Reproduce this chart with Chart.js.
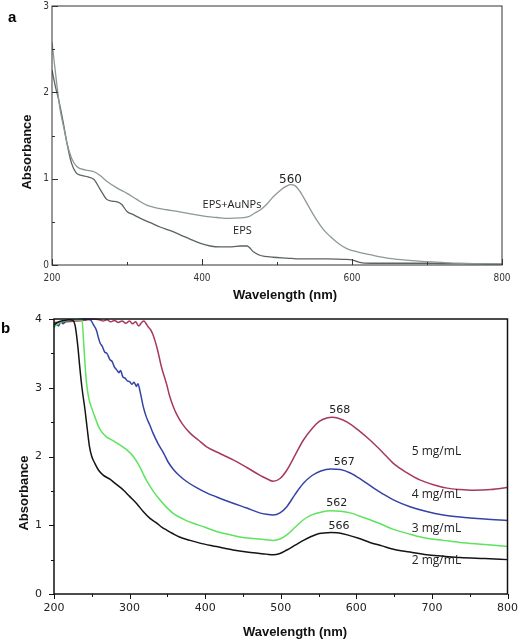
<!DOCTYPE html>
<html>
<head>
<meta charset="utf-8">
<script src="https://cdn.jsdelivr.net/npm/chart.js@4"></script>
<style>
    body { margin: 0; background: #fff; }
    #wrap { position: relative; width: 520px; height: 640px; overflow: hidden; }
    canvas { position: absolute; left: 0; }
    #chartA { top: -3px; }
    #chartB { top: 300px; }
    .panel { position: absolute; font: bold 15px "Liberation Sans", Arial, sans-serif; line-height: 1; color: #000; }
</style>
</head>
<body>
<div id="wrap">
    <canvas id="chartA" width="520" height="306"></canvas>
    <canvas id="chartB" width="526" height="340"></canvas>
    <div class="panel" style="left:8px; top:9px;">a</div>
    <div class="panel" style="left:1px; top:320px;">b</div>
</div>
<script>
// panel a: EPS and EPS+AuNPs spectra
const waveAuNP = [200, 203, 207, 211, 216, 220, 226, 233, 245, 256, 265, 273, 287, 300, 313, 327, 340, 353, 367, 380, 393, 407, 420, 435, 450, 462, 470, 478, 487, 495, 505, 512, 518, 524, 530, 535, 544, 553, 562, 571, 582, 593, 608, 624, 640, 655, 680, 700, 720, 744, 770, 800];
const absAuNP = [2.58, 2.35, 2.05, 1.79, 1.58, 1.41, 1.24, 1.14, 1.10, 1.08, 1.03, 0.97, 0.89, 0.83, 0.76, 0.69, 0.66, 0.64, 0.62, 0.60, 0.58, 0.56, 0.55, 0.54, 0.545, 0.56, 0.60, 0.64, 0.71, 0.79, 0.87, 0.91, 0.93, 0.92, 0.86, 0.79, 0.65, 0.52, 0.41, 0.33, 0.25, 0.19, 0.15, 0.12, 0.09, 0.07, 0.05, 0.04, 0.03, 0.02, 0.015, 0.01];

const waveEPS = [200, 205, 209, 215, 220, 226, 232, 238, 248, 256, 264, 273, 280, 287, 293, 300, 309, 318, 331, 344, 357, 371, 384, 398, 411, 424, 440, 451, 460, 469, 478, 495, 513, 531, 567, 590, 600, 610, 625, 655, 700, 750, 800];
const absEPS = [2.26, 2.05, 1.91, 1.65, 1.41, 1.18, 1.07, 1.04, 1.02, 0.99, 0.88, 0.76, 0.74, 0.73, 0.70, 0.62, 0.58, 0.54, 0.49, 0.44, 0.40, 0.35, 0.30, 0.25, 0.22, 0.21, 0.21, 0.22, 0.22, 0.15, 0.11, 0.09, 0.08, 0.07, 0.07, 0.065, 0.06, 0.03, 0.02, 0.02, 0.02, 0.015, 0.01];

// panel b: spectra at four concentrations
const wave2 = [200, 205, 210, 215, 220, 225, 228, 230, 232, 234, 237, 241, 244, 247, 250, 254, 259, 265, 274, 283, 292, 300, 309, 318, 327, 336, 343, 349, 357, 366, 380, 393, 415, 437, 455, 472, 481, 490, 499, 508, 519, 530, 541, 551, 561, 566, 575, 588, 603, 618, 634, 649, 671, 693, 715, 737, 770, 800];
const abs2 = [3.92, 3.95, 3.97, 3.98, 3.99, 3.98, 3.9, 3.75, 3.55, 3.31, 3.0, 2.68, 2.40, 2.14, 2.0, 1.90, 1.80, 1.73, 1.67, 1.59, 1.51, 1.42, 1.32, 1.20, 1.10, 1.03, 0.97, 0.93, 0.88, 0.83, 0.78, 0.74, 0.69, 0.64, 0.61, 0.59, 0.58, 0.57, 0.59, 0.64, 0.71, 0.78, 0.84, 0.88, 0.89, 0.895, 0.89, 0.86, 0.81, 0.75, 0.70, 0.65, 0.61, 0.57, 0.55, 0.53, 0.515, 0.50];

const wave3 = [200, 205, 210, 220, 230, 237, 239, 241, 243, 246, 250, 254, 258, 261, 269, 278, 287, 296, 305, 313, 322, 331, 340, 349, 358, 371, 384, 400, 415, 430, 446, 460, 472, 481, 490, 499, 508, 519, 530, 541, 553, 566, 579, 592, 605, 618, 634, 649, 671, 693, 715, 737, 770, 800];
const abs3 = [3.88, 3.93, 3.96, 3.98, 3.99, 3.99, 3.7, 3.35, 3.07, 2.85, 2.7, 2.58, 2.46, 2.39, 2.29, 2.23, 2.17, 2.10, 2.00, 1.86, 1.66, 1.50, 1.37, 1.26, 1.17, 1.09, 1.03, 0.97, 0.91, 0.87, 0.83, 0.81, 0.80, 0.79, 0.78, 0.80, 0.86, 0.97, 1.08, 1.15, 1.19, 1.21, 1.205, 1.18, 1.13, 1.08, 1.01, 0.94, 0.87, 0.81, 0.78, 0.75, 0.72, 0.69];

const wave4 = [200, 203, 206, 209, 212, 216, 220, 230, 240, 248, 252, 256, 259, 261, 264, 267, 270, 274, 277, 280, 283, 286, 288, 291, 294, 297, 300, 303, 306, 309, 311, 314, 318, 322, 327, 331, 338, 345, 351, 358, 366, 375, 388, 402, 420, 437, 455, 472, 481, 490, 499, 508, 519, 530, 541, 553, 566, 579, 592, 607, 623, 636, 649, 671, 693, 715, 737, 770, 800];
const abs4 = [3.88, 3.93, 3.90, 3.96, 3.93, 3.97, 3.98, 3.99, 4.0, 3.99, 3.92, 3.84, 3.72, 3.65, 3.60, 3.52, 3.50, 3.41, 3.38, 3.30, 3.26, 3.22, 3.25, 3.16, 3.14, 3.10, 3.09, 3.05, 3.08, 3.02, 3.06, 2.94, 2.73, 2.58, 2.45, 2.34, 2.18, 2.05, 1.92, 1.81, 1.72, 1.64, 1.55, 1.47, 1.39, 1.32, 1.25, 1.18, 1.16, 1.15, 1.18, 1.27, 1.45, 1.61, 1.72, 1.79, 1.82, 1.81, 1.76, 1.66, 1.54, 1.45, 1.37, 1.27, 1.20, 1.15, 1.12, 1.09, 1.07];

const wave5 = [200, 240, 250, 260, 265, 270, 275, 280, 285, 290, 295, 300, 304, 308, 312, 316, 319, 322, 325, 328, 331, 337, 342, 349, 353, 358, 362, 370, 380, 391, 402, 420, 437, 455, 472, 481, 490, 499, 508, 519, 530, 541, 551, 561, 568, 575, 588, 603, 618, 634, 649, 666, 684, 702, 720, 737, 755, 778, 800];
const abs5 = [3.95, 3.98, 4.0, 3.99, 3.97, 3.99, 3.96, 3.98, 3.95, 3.97, 3.94, 3.97, 3.93, 3.96, 3.90, 3.95, 3.97, 3.93, 3.88, 3.84, 3.77, 3.55, 3.31, 3.05, 2.88, 2.72, 2.62, 2.47, 2.34, 2.24, 2.14, 2.04, 1.95, 1.84, 1.73, 1.68, 1.64, 1.68, 1.80, 2.02, 2.24, 2.40, 2.51, 2.56, 2.57, 2.56, 2.50, 2.38, 2.24, 2.07, 1.90, 1.77, 1.66, 1.59, 1.54, 1.52, 1.51, 1.52, 1.55];

const concLabels = ['2 mg/mL', '3 mg/mL', '4 mg/mL', '5 mg/mL'];
const peakLabels = ['566', '562', '567', '568'];

// text placed in data units
const notesA = [
    { text: '560', x: 518, y: 0.99, font: '12px "DejaVu Sans", sans-serif' },
    { text: 'EPS+AuNPs', x: 440, y: 0.70, font: '11px "Open Sans", sans-serif' },
    { text: 'EPS', x: 454, y: 0.39, font: '11px "Open Sans", sans-serif' }
];
const peakPosB = [[577, 0.99], [574, 1.32], [584, 1.92], [578, 2.68]];
const concPosB = [[706, 0.48], [706, 0.95], [706, 1.44], [706, 2.07]];

function toPoints(xs, ys) {
    return xs.map((x, i) => ({ x: x, y: ys[i] }));
}

const titleFont = 'bold 13px "Liberation Sans", Arial, sans-serif';

// box, tick marks, axis titles and notes
const framePlugin = {
    id: 'frame',
    afterDraw(chart, args, opts) {
        const { ctx, chartArea: a, scales: { x, y } } = chart;
        ctx.save();
        ctx.strokeStyle = opts.color;
        ctx.lineWidth = opts.width;
        ctx.strokeRect(a.left, a.top, a.right - a.left, a.bottom - a.top);

        const dir = opts.inward ? -1 : 1;
        ctx.lineWidth = 1;
        ctx.beginPath();
        for (let v = x.min; v <= x.max; v += opts.xMinor) {
            const px = Math.round(x.getPixelForValue(v)) + 0.5;
            const len = (v - x.min) % opts.xMajor === 0 ? opts.major : opts.minor;
            ctx.moveTo(px, a.bottom);
            ctx.lineTo(px, a.bottom + dir * len);
        }
        for (let v = y.min; v <= y.max; v += opts.yMinor) {
            const py = Math.round(y.getPixelForValue(v)) + 0.5;
            const len = v % 1 === 0 ? opts.major : opts.minor;
            ctx.moveTo(a.left, py);
            ctx.lineTo(a.left - dir * len, py);
        }
        ctx.stroke();

        ctx.textAlign = 'center';
        ctx.textBaseline = 'middle';
        ctx.fillStyle = '#111';
        ctx.font = titleFont;
        ctx.fillText('Wavelength (nm)', opts.xTitle[0], opts.xTitle[1]);
        ctx.save();
        ctx.translate(opts.yTitle[0], opts.yTitle[1]);
        ctx.rotate(-Math.PI / 2);
        ctx.fillText('Absorbance', 0, 0);
        ctx.restore();

        ctx.fillStyle = '#222';
        opts.notes.forEach(n => {
            ctx.font = n.font;
            ctx.fillText(n.text, x.getPixelForValue(n.x), y.getPixelForValue(n.y));
        });
        ctx.restore();
    }
};

new Chart(document.getElementById('chartA'), {
    type: 'line',
    data: {
        datasets: [
            { label: 'EPS+AuNPs', data: toPoints(waveAuNP, absAuNP), borderColor: '#8d9898', borderWidth: 1.3 },
            { label: 'EPS', data: toPoints(waveEPS, absEPS), borderColor: '#5b6363', borderWidth: 1.3 }
        ]
    },
    options: {
        responsive: false,
        animation: false,
        devicePixelRatio: 1,
        layout: { padding: { left: 0, right: 18, top: 1, bottom: 0 } },
        elements: { point: { radius: 0 }, line: { cubicInterpolationMode: 'monotone' } },
        scales: {
            x: {
                type: 'linear', min: 200, max: 800,
                border: { display: false },
                grid: { display: false, drawTicks: false },
                ticks: { stepSize: 200, padding: 7, color: '#333', font: { family: '"Liberation Sans Narrow", "DejaVu Sans Condensed", sans-serif', size: 10 } },
                afterFit: s => { s.height = 38; }
            },
            y: {
                min: 0, max: 3,
                border: { display: false },
                grid: { display: false, drawTicks: false },
                ticks: { stepSize: 1, padding: 3, color: '#333', font: { family: '"Liberation Sans Narrow", "DejaVu Sans Condensed", sans-serif', size: 10 } },
                afterFit: s => { s.width = 52; }
            }
        },
        plugins: {
            legend: { display: false },
            tooltip: { enabled: false },
            frame: {
                color: '#333', width: 1, inward: true, xMajor: 200, xMinor: 100, yMinor: 0.5, major: 6, minor: 3,
                xTitle: [285, 298], yTitle: [27, 155], notes: notesA
            }
        }
    },
    plugins: [framePlugin]
});

const colorsB = ['#141414', '#5ee35e', '#3444a6', '#a63a5c'];
const wavesB = [wave2, wave3, wave4, wave5];
const absB = [abs2, abs3, abs4, abs5];
const notesB = [];
concLabels.forEach((label, i) => {
    notesB.push({ text: peakLabels[i], x: peakPosB[i][0], y: peakPosB[i][1], font: '11px "DejaVu Sans", sans-serif' });
    notesB.push({ text: label, x: concPosB[i][0], y: concPosB[i][1], font: '12px "Open Sans", sans-serif' });
});

new Chart(document.getElementById('chartB'), {
    type: 'line',
    data: {
        datasets: concLabels.map((label, i) => ({
            label: label,
            data: toPoints(wavesB[i], absB[i]),
            borderColor: colorsB[i],
            borderWidth: 1.5,
            clip: 3
        }))
    },
    options: {
        responsive: false,
        animation: false,
        devicePixelRatio: 1,
        layout: { padding: { left: 0, right: 13, top: 19, bottom: 0 } },
        elements: { point: { radius: 0 }, line: { cubicInterpolationMode: 'monotone' } },
        scales: {
            x: {
                type: 'linear', min: 200, max: 800,
                border: { display: false },
                grid: { display: false, drawTicks: false },
                ticks: { stepSize: 100, padding: 8, color: '#222', font: { family: '"DejaVu Sans", sans-serif', size: 11 } },
                afterFit: s => { s.height = 46; }
            },
            y: {
                min: 0, max: 4,
                border: { display: false },
                grid: { display: false, drawTicks: false },
                ticks: { stepSize: 1, padding: 12, color: '#222', font: { family: '"DejaVu Sans", sans-serif', size: 11 } },
                afterFit: s => { s.width = 54; }
            }
        },
        plugins: {
            legend: { display: false },
            tooltip: { enabled: false },
            frame: {
                color: '#111', width: 1.5, inward: false, xMajor: 100, xMinor: 50, yMinor: 0.5, major: 5, minor: 3,
                xTitle: [295, 332], yTitle: [24, 193], notes: notesB
            }
        }
    },
    plugins: [framePlugin]
});
</script>
</body>
</html>
